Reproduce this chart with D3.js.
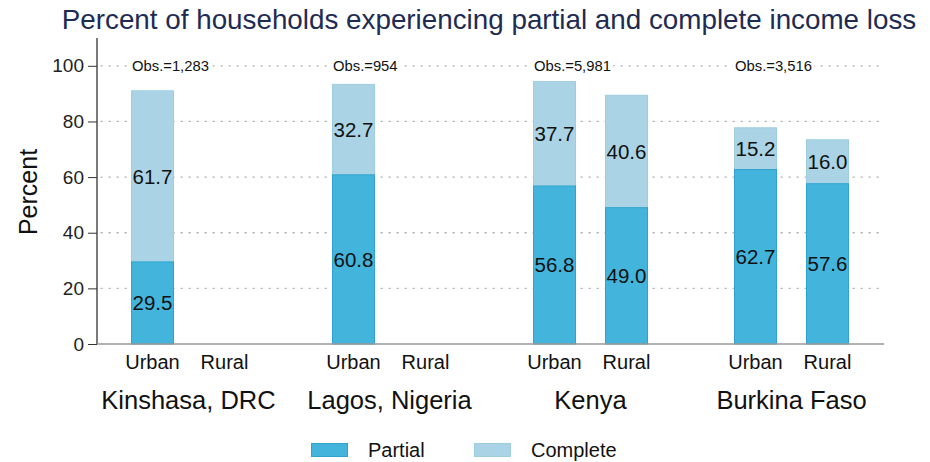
<!DOCTYPE html>
<html>
<head>
<meta charset="utf-8">
<script src="https://cdn.jsdelivr.net/npm/d3@7"></script>
<style>
  html, body { margin: 0; padding: 0; background: #fff; }
  svg { display: block; font-family: "Liberation Sans", Arial, sans-serif; }
</style>
</head>
<body>
<svg id="chart" width="930" height="462"></svg>
<script>
// Regions and area types
const regions = ["Kinshasa, DRC", "Lagos, Nigeria", "Kenya", "Burkina Faso"];
const areas = ["Urban", "Rural"];
const observations = ["1,283", "954", "5,981", "3,516"];

// Share of households (%) by region, urban then rural; null = no sample
const partialLoss = [
  [29.5, null],
  [60.8, null],
  [56.8, 49.0],
  [62.7, 57.6]
];
const completeLoss = [
  [61.7, null],
  [32.7, null],
  [37.7, 40.6],
  [15.2, 16.0]
];

const yTicks = [0, 20, 40, 60, 80, 100];
const legendLabels = ["Partial", "Complete"];

const colPartial = "#43b5dc", strokePartial = "#2ea3cf";
const colComplete = "#aad4e5", strokeComplete = "#9ccde1";

const svg = d3.select("#chart");

const plot = { left: 97, right: 884, top: 38, bottom: 344 };

const y = d3.scaleLinear().domain([0, 110]).range([plot.bottom, plot.top]);
const xGroup = d3.scaleBand().domain(regions).range([88, 892]).padding(0);
const xArea = d3.scaleBand().domain(areas).range([28.5, 172.5]).padding(0);
const barW = 43;

// Title
svg.append("text")
  .attr("x", 489).attr("y", 29)
  .attr("text-anchor", "middle")
  .attr("font-size", 27.8)
  .attr("fill", "#1e2b52")
  .text("Percent of households experiencing partial and complete income loss");

// Dotted gridlines
svg.append("g")
  .selectAll("line")
  .data(yTicks.filter(d => d > 0))
  .join("line")
  .attr("x1", plot.left + 4).attr("x2", plot.right - 2)
  .attr("y1", d => y(d)).attr("y2", d => y(d))
  .attr("stroke", "#b5b5b5")
  .attr("stroke-width", 1.3)
  .attr("stroke-dasharray", "1.3 6.7")
  .attr("stroke-linecap", "round");

// Y axis
const yAxis = d3.axisLeft(y).tickValues(yTicks).tickSize(9).tickPadding(4);
const gy = svg.append("g")
  .attr("transform", `translate(${plot.left},0)`)
  .call(yAxis);
gy.select(".domain").remove();
gy.selectAll(".tick line").attr("stroke", "#333");
gy.selectAll(".tick text")
  .attr("font-size", 19)
  .attr("fill", "#222")
  .attr("font-family", "Liberation Sans, Arial, sans-serif");
svg.append("line")
  .attr("x1", plot.left).attr("x2", plot.left)
  .attr("y1", plot.top).attr("y2", plot.bottom)
  .attr("stroke", "#333").attr("stroke-width", 1.3);

svg.append("text")
  .attr("transform", "translate(37,192) rotate(-90)")
  .attr("text-anchor", "middle")
  .attr("font-size", 25)
  .attr("fill", "#111")
  .text("Percent");

// Bars
const bars = [];
regions.forEach((r, i) => {
  areas.forEach((a, j) => {
    if (partialLoss[i][j] == null) return;
    bars.push({ region: r, area: a, partial: partialLoss[i][j], complete: completeLoss[i][j] });
  });
});

const cx = d => xGroup(d.region) + xArea(d.area) + xArea.bandwidth() / 2;

const gb = svg.append("g");
bars.forEach(d => {
  const x0 = cx(d) - barW / 2;
  const top = d.partial + d.complete;
  gb.append("rect")
    .attr("x", x0 + 0.5).attr("width", barW - 1)
    .attr("y", y(top) + 0.5).attr("height", y(d.partial) - y(top))
    .attr("fill", colComplete).attr("stroke", strokeComplete);
  gb.append("rect")
    .attr("x", x0 + 0.5).attr("width", barW - 1)
    .attr("y", y(d.partial)).attr("height", y(0) - y(d.partial))
    .attr("fill", colPartial).attr("stroke", strokePartial);
  gb.append("text")
    .attr("x", cx(d)).attr("y", y(d.partial / 2) + 7.5)
    .attr("text-anchor", "middle").attr("font-size", 20.5).attr("fill", "#111")
    .text(d.partial.toFixed(1));
  gb.append("text")
    .attr("x", cx(d)).attr("y", y(d.partial + d.complete / 2) + 7.5)
    .attr("text-anchor", "middle").attr("font-size", 20.5).attr("fill", "#111")
    .text(d.complete.toFixed(1));
});

// X axis baseline
svg.append("line")
  .attr("x1", plot.left).attr("x2", plot.right)
  .attr("y1", plot.bottom).attr("y2", plot.bottom)
  .attr("stroke", "#999").attr("stroke-width", 1.3);

// Observation counts on the 100% line, each on a white backing
regions.forEach((r, i) => {
  const lx = xGroup(r) + xArea("Urban") + xArea.bandwidth() / 2 - barW / 2 + 1;
  const g = svg.append("g");
  const bg = g.append("rect").attr("fill", "#fff");
  const t = g.append("text")
    .attr("x", lx).attr("y", y(100) + 5)
    .attr("font-size", 14.8).attr("fill", "#111")
    .text("Obs.=" + observations[i]);
  const bb = t.node().getBBox();
  bg.attr("x", bb.x - 2).attr("y", y(100) - 3)
    .attr("width", bb.width + 4).attr("height", 6);
});

// Area labels and region labels
regions.forEach(r => {
  areas.forEach(a => {
    svg.append("text")
      .attr("x", xGroup(r) + xArea(a) + xArea.bandwidth() / 2)
      .attr("y", 369)
      .attr("text-anchor", "middle").attr("font-size", 20).attr("fill", "#111")
      .text(a);
  });
  svg.append("text")
    .attr("x", xGroup(r) + xGroup.bandwidth() / 2)
    .attr("y", 409)
    .attr("text-anchor", "middle").attr("font-size", 25.5).attr("fill", "#111")
    .text(r);
});

// Legend
const legendX = [311, 474];
const legendCols = [[colPartial, strokePartial], [colComplete, strokeComplete]];
legendLabels.forEach((lab, i) => {
  svg.append("rect")
    .attr("x", legendX[i] + 0.5).attr("y", 443.5)
    .attr("width", 36).attr("height", 13)
    .attr("fill", legendCols[i][0]).attr("stroke", legendCols[i][1]);
  svg.append("text")
    .attr("x", legendX[i] + 57).attr("y", 457)
    .attr("font-size", 20).attr("fill", "#111")
    .text(lab);
});
</script>
</body>
</html>
